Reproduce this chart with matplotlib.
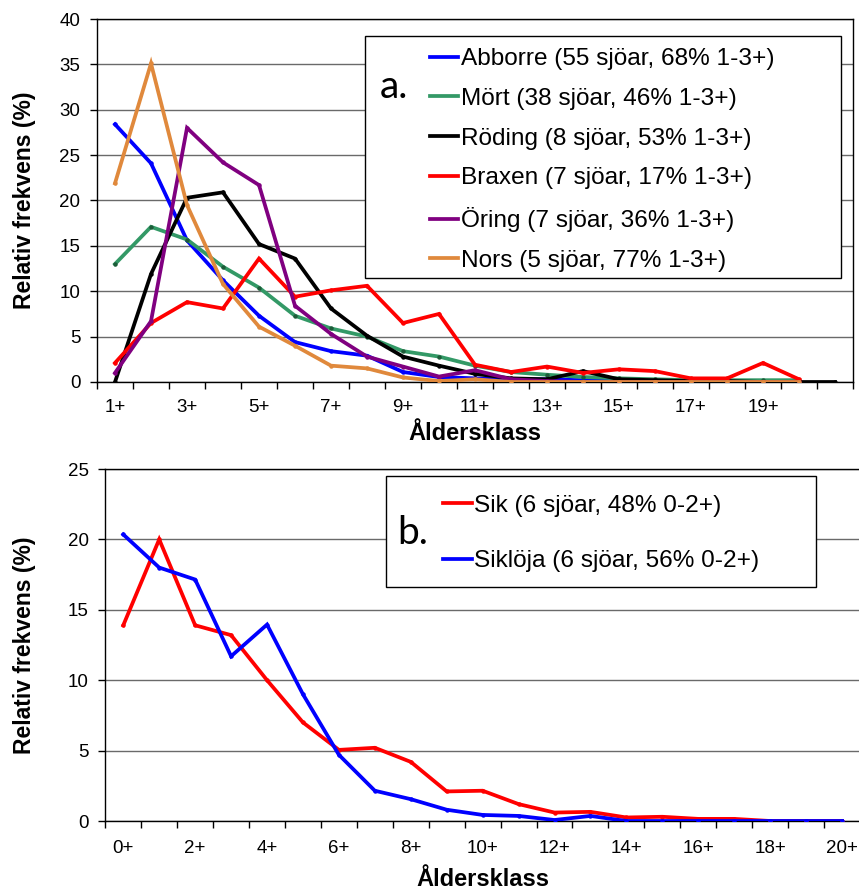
import matplotlib
matplotlib.use("Agg")
import matplotlib.pyplot as plt
from matplotlib.patches import Rectangle
import numpy as np

plt.rcParams['font.family'] = ['Liberation Sans', 'DejaVu Sans']

# ---------------- data ----------------
cats_a = [f"{i}+" for i in range(1, 22)]
abborre = [28.4, 24.1, 15.6, 11.2, 7.3, 4.4, 3.4, 2.9, 1.1, 0.55, 0.4, 0.3, 0.3, 0.2, 0.1, 0.1, 0.05, 0.05, 0.0, 0.0]
mort = [13.0, 17.1, 15.7, 12.7, 10.4, 7.3, 5.9, 5.0, 3.4, 2.8, 1.8, 1.1, 0.8, 0.55, 0.4, 0.3, 0.2, 0.2, 0.2, 0.2]
roding = [0.0, 11.9, 20.3, 20.9, 15.2, 13.6, 8.1, 5.1, 2.8, 1.8, 0.9, 0.4, 0.3, 1.2, 0.3, 0.2, 0.1, 0.1, 0.0, 0.0, 0.0]
braxen = [2.1, 6.5, 8.8, 8.1, 13.6, 9.4, 10.1, 10.6, 6.5, 7.5, 1.9, 1.1, 1.7, 1.0, 1.4, 1.2, 0.4, 0.4, 2.1, 0.3]
oring = [1.0, 6.7, 28.0, 24.2, 21.7, 8.4, 5.3, 2.8, 1.7, 0.6, 1.3, 0.3, 0.1, 0.0, 0.0, 0.0, 0.0, 0.0, 0.0, 0.0]
nors = [21.9, 35.1, 19.5, 10.8, 6.1, 4.0, 1.8, 1.5, 0.5, 0.1, 0.3, 0.0, 0.0, 0.0, 0.0, 0.0, 0.0, 0.0, 0.0, 0.0]
labels_a = ["Abborre (55 sjöar, 68% 1-3+)", "Mört (38 sjöar, 46% 1-3+)",
            "Röding (8 sjöar, 53% 1-3+)", "Braxen (7 sjöar, 17% 1-3+)",
            "Öring (7 sjöar, 36% 1-3+)", "Nors (5 sjöar, 77% 1-3+)"]
colors_a = ["#0000FF", "#339966", "#000000", "#FF0000", "#800080", "#E0893C"]

cats_b = [f"{i}+" for i in range(0, 21)]
sik = [13.9, 20.0, 13.9, 13.2, 10.0, 7.0, 5.05, 5.2, 4.2, 2.1, 2.15, 1.2, 0.6, 0.65, 0.25, 0.3, 0.15, 0.15, 0.0, 0.0, 0.0]
siklöja = [20.35, 18.0, 17.15, 11.7, 13.95, 9.0, 4.7, 2.15, 1.55, 0.8, 0.43, 0.36, 0.07, 0.36, 0.0, 0.0, 0.0, 0.0, 0.0, 0.0, 0.0]
labels_b = ["Sik (6 sjöar, 48% 0-2+)", "Siklöja (6 sjöar, 56% 0-2+)"]
colors_b = ["#FF0000", "#0000FF"]

W, H = 859, 890
fig = plt.figure(figsize=(W / 100, H / 100), dpi=100)

def fx(x):
    return x / W

def fy(y):
    return 1 - y / H

def style_axes(ax, n, ymax, xpad):
    ax.set_xlim(-0.5, n - 0.5)
    ax.set_ylim(0, ymax)
    ax.set_yticks(np.arange(0, ymax + 1, 5))
    ax.yaxis.grid(True, color="#6a6a6a", lw=1.0)
    ax.set_axisbelow(True)
    ax.set_xticks(np.arange(-0.5, n, 1.0))
    ax.set_xticklabels([])
    ax.tick_params(axis='x', which='major', length=5, width=1, direction='out')
    ax.tick_params(axis='x', which='minor', length=0, pad=xpad, labelsize=13.5)
    ax.tick_params(axis='y', length=5, width=1, direction='out', pad=7, labelsize=13.5)
    for s in ax.spines.values():
        s.set_color("black")
        s.set_linewidth(1.0)

LW = 2.7

# ---------------- panel a ----------------
ax_l, ax_r = 97, 853
axa = fig.add_axes([fx(ax_l), fy(382), fx(ax_r) - fx(ax_l), fy(19) - fy(382)])
series_a = [abborre, mort, roding, braxen, oring, nors]
handles_a = []
for vals, c, lab in zip(series_a, colors_a, labels_a):
    x = np.arange(len(vals))
    mfc = "#1d5c39" if c == "#339966" else c
    h, = axa.plot(x, vals, color=c, lw=LW, marker='o', ms=2.2, mfc=mfc, mec=mfc,
                  solid_joinstyle='miter', label=lab, zorder=3)
    handles_a.append(h)
style_axes(axa, len(cats_a), 40, 12.3)
idx_a = list(range(0, len(cats_a), 2))[:10]
axa.set_xticks(idx_a, [cats_a[i] for i in idx_a], minor=True)
axa.set_ylabel("Relativ frekvens (%)", fontsize=16.5, fontweight='bold')
axa.yaxis.set_label_coords((36 - ax_l) / (ax_r - ax_l), 0.5)
axa.set_xlabel("Åldersklass", fontsize=17, fontweight='bold', labelpad=4)

fig.patches.append(Rectangle((fx(365), fy(278)), fx(841) - fx(365), fy(36) - fy(278),
                             transform=fig.transFigure, facecolor='white',
                             edgecolor='black', lw=1.0, zorder=5))
leg_a = fig.legend(handles=handles_a, labels=labels_a, loc='center left',
                   bbox_to_anchor=(fx(430), fy(160)), frameon=False,
                   fontsize=17.6, handlelength=1.15, handletextpad=0.1,
                   labelspacing=0.72, borderpad=0, borderaxespad=0)
leg_a.set_zorder(6)
for lh in leg_a.get_lines():
    lh.set_marker('')
fig.text(fx(380), fy(98), "a.", fontsize=28, family=['Lato', 'DejaVu Sans'],
         va='baseline', ha='left', zorder=7)

# ---------------- panel b ----------------
bx_l, bx_r = 105.3, 860
axb = fig.add_axes([fx(bx_l), fy(821), fx(bx_r) - fx(bx_l), fy(469) - fy(821)])
handles_b = []
for vals, c, lab in zip([sik, siklöja], colors_b, labels_b):
    x = np.arange(len(vals))
    h, = axb.plot(x, vals, color=c, lw=LW, marker='o', ms=2.2, mfc=c, mec=c,
                  solid_joinstyle='miter', label=lab, zorder=3)
    handles_b.append(h)
style_axes(axb, len(cats_b), 25, 13.7)
idx_b = list(range(0, len(cats_b), 2))
axb.set_xticks(idx_b, [cats_b[i] for i in idx_b], minor=True)
axb.set_ylabel("Relativ frekvens (%)", fontsize=16.5, fontweight='bold')
axb.yaxis.set_label_coords((36 - bx_l) / (bx_r - bx_l), 0.5)
axb.set_xlabel("Åldersklass", fontsize=17, fontweight='bold', labelpad=8)

fig.patches.append(Rectangle((fx(386), fy(587)), fx(816) - fx(386), fy(476) - fy(587),
                             transform=fig.transFigure, facecolor='white',
                             edgecolor='black', lw=1.0, zorder=5))
leg_b = fig.legend(handles=handles_b, labels=labels_b, loc='center left',
                   bbox_to_anchor=(fx(443), fy(533.5)), frameon=False,
                   fontsize=17.6, handlelength=1.2, handletextpad=0.05,
                   labelspacing=1.38, borderpad=0, borderaxespad=0)
leg_b.set_zorder(6)
for lh in leg_b.get_lines():
    lh.set_marker('')
fig.text(fx(397), fy(544), "b.", fontsize=28, family=['Lato', 'DejaVu Sans'],
         va='baseline', ha='left', zorder=7)

fig.savefig("out.png", dpi=100)
